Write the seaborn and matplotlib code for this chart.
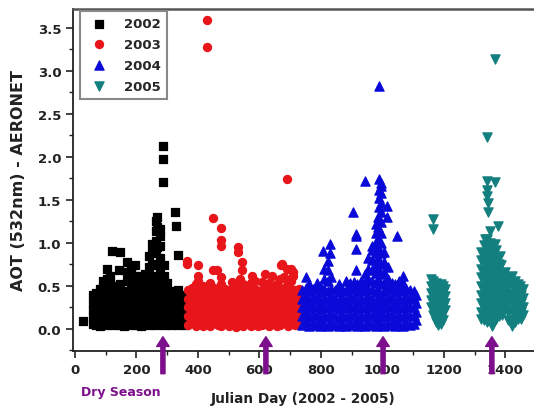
import pandas as pd
import matplotlib
matplotlib.use('Agg')
import matplotlib.pyplot as plt
import seaborn as sns
from matplotlib.ticker import MultipleLocator, FormatStrFormatter

sns.set_style('ticks')
plt.rcParams['font.family'] = ['DejaVu Sans']
plt.rcParams['font.weight'] = 'bold'

# (julian day, AOT), one column of points per line
pts_2002 = [
    (25, 0.09),
    (58, 0.06), (58, 0.14), (58, 0.22), (58, 0.30), (58, 0.40),
    (68, 0.05), (68, 0.10), (68, 0.18), (68, 0.26), (68, 0.34), (68, 0.42),
    (80, 0.04), (80, 0.12), (80, 0.20), (80, 0.28), (80, 0.36), (80, 0.46),
    (92, 0.06), (92, 0.14), (92, 0.22), (92, 0.30), (92, 0.38), (92, 0.48), (92, 0.56),
    (103, 0.05), (103, 0.12), (103, 0.20), (103, 0.32), (103, 0.44), (103, 0.58), (103, 0.70),
    (114, 0.07), (114, 0.16), (114, 0.25), (114, 0.35), (114, 0.45), (114, 0.55), (114, 0.62),
    (119, 0.91),
    (126, 0.05), (126, 0.13), (126, 0.22), (126, 0.30), (126, 0.40), (126, 0.50),
    (137, 0.06), (137, 0.15), (137, 0.25), (137, 0.35), (137, 0.44),
    (144, 0.68), (146, 0.90),
    (148, 0.05), (148, 0.14), (148, 0.22), (148, 0.32), (148, 0.42), (148, 0.52),
    (160, 0.04), (160, 0.10), (160, 0.18), (160, 0.28), (160, 0.38),
    (170, 0.06), (170, 0.14), (170, 0.24), (170, 0.34), (170, 0.44), (170, 0.56), (170, 0.66), (170, 0.78),
    (182, 0.05), (182, 0.12), (182, 0.22), (182, 0.32), (182, 0.42), (182, 0.54), (182, 0.64), (182, 0.72),
    (194, 0.06), (194, 0.15), (194, 0.25), (194, 0.36), (194, 0.48), (194, 0.62), (194, 0.74),
    (205, 0.05), (205, 0.12), (205, 0.22), (205, 0.30), (205, 0.38), (205, 0.46), (205, 0.58),
    (216, 0.04), (216, 0.14), (216, 0.24), (216, 0.34), (216, 0.44), (216, 0.54), (216, 0.62),
    (228, 0.06), (228, 0.16), (228, 0.26), (228, 0.38), (228, 0.50), (228, 0.64),
    (240, 0.05), (240, 0.13), (240, 0.23), (240, 0.33), (240, 0.45), (240, 0.58), (240, 0.72), (240, 0.85),
    (252, 0.06), (252, 0.15), (252, 0.26), (252, 0.38), (252, 0.50), (252, 0.62), (252, 0.76), (252, 0.90), (252, 0.99),
    (262, 0.05), (262, 0.14), (262, 0.24), (262, 0.36), (262, 0.48), (262, 0.60), (262, 0.74), (262, 0.88),
    (262, 1.02), (262, 1.14), (262, 1.25),
    (268, 1.30), (268, 1.18), (268, 0.95),
    (276, 0.06), (276, 0.16), (276, 0.28), (276, 0.40), (276, 0.54), (276, 0.68), (276, 0.82), (276, 0.96),
    (276, 1.08), (276, 1.16),
    (285, 1.71), (285, 1.98), (285, 2.13),
    (288, 0.05), (288, 0.14), (288, 0.26), (288, 0.38), (288, 0.50), (288, 0.62), (288, 0.74),
    (300, 0.06), (300, 0.15), (300, 0.24), (300, 0.34), (300, 0.44), (300, 0.54),
    (312, 0.05), (312, 0.12), (312, 0.22), (312, 0.32), (312, 0.42),
    (324, 0.06), (324, 0.14), (324, 0.24), (324, 0.34), (324, 0.44),
    (325, 1.36), (328, 1.20),
    (336, 0.86), (336, 0.05), (336, 0.15), (336, 0.25), (336, 0.35), (336, 0.45),
    (348, 0.06), (348, 0.14), (348, 0.22), (348, 0.32), (348, 0.40),
    (358, 0.05), (358, 0.12), (358, 0.20), (358, 0.30), (358, 0.38),
]

pts_2003 = [
    (428, 3.59), (428, 3.28), (688, 1.74), (448, 1.29), (475, 1.17), (475, 1.03), (475, 0.97),
    (531, 0.95), (531, 0.89), (365, 0.79), (365, 0.76), (401, 0.74), (401, 0.62), (401, 0.56),
    (450, 0.68), (461, 0.68), (542, 0.78), (542, 0.68), (575, 0.62), (618, 0.64), (640, 0.62),
    (669, 0.74), (672, 0.76), (688, 0.70), (701, 0.70), (710, 0.66), (710, 0.62),
    (368, 0.05), (368, 0.15), (368, 0.25), (368, 0.35), (368, 0.45),
    (380, 0.08), (380, 0.18), (380, 0.28), (380, 0.38), (380, 0.48),
    (392, 0.04), (392, 0.14), (392, 0.24), (392, 0.34), (392, 0.44), (392, 0.52),
    (404, 0.07), (404, 0.17), (404, 0.27), (404, 0.37), (404, 0.47),
    (416, 0.03), (416, 0.13), (416, 0.23), (416, 0.33), (416, 0.43), (416, 0.50),
    (428, 0.06), (428, 0.16), (428, 0.26), (428, 0.36), (428, 0.46),
    (440, 0.04), (440, 0.14), (440, 0.24), (440, 0.34), (440, 0.44), (440, 0.54),
    (452, 0.08), (452, 0.18), (452, 0.28), (452, 0.38), (452, 0.48),
    (464, 0.05), (464, 0.15), (464, 0.25), (464, 0.35), (464, 0.45),
    (476, 0.03), (476, 0.12), (476, 0.22), (476, 0.32), (476, 0.42), (476, 0.52), (476, 0.60),
    (488, 0.07), (488, 0.17), (488, 0.27), (488, 0.37), (488, 0.47),
    (500, 0.04), (500, 0.14), (500, 0.24), (500, 0.34), (500, 0.44),
    (512, 0.06), (512, 0.16), (512, 0.26), (512, 0.36), (512, 0.46), (512, 0.55),
    (524, 0.02), (524, 0.12), (524, 0.22), (524, 0.32), (524, 0.42), (524, 0.50),
    (536, 0.05), (536, 0.15), (536, 0.25), (536, 0.35), (536, 0.45), (536, 0.58),
    (548, 0.03), (548, 0.13), (548, 0.23), (548, 0.33), (548, 0.43), (548, 0.52),
    (560, 0.07), (560, 0.17), (560, 0.27), (560, 0.37), (560, 0.47),
    (572, 0.04), (572, 0.14), (572, 0.24), (572, 0.34), (572, 0.44), (572, 0.54),
    (584, 0.06), (584, 0.16), (584, 0.26), (584, 0.36), (584, 0.46), (584, 0.56),
    (596, 0.03), (596, 0.13), (596, 0.23), (596, 0.33), (596, 0.43),
    (608, 0.05), (608, 0.15), (608, 0.25), (608, 0.35), (608, 0.45), (608, 0.55),
    (620, 0.07), (620, 0.17), (620, 0.27), (620, 0.37), (620, 0.47),
    (632, 0.04), (632, 0.14), (632, 0.24), (632, 0.34), (632, 0.44), (632, 0.54),
    (644, 0.06), (644, 0.16), (644, 0.26), (644, 0.36), (644, 0.46),
    (656, 0.03), (656, 0.13), (656, 0.23), (656, 0.33), (656, 0.43), (656, 0.52),
    (668, 0.05), (668, 0.15), (668, 0.25), (668, 0.35), (668, 0.45), (668, 0.58),
    (680, 0.08), (680, 0.18), (680, 0.28), (680, 0.38), (680, 0.48), (680, 0.60),
    (692, 0.04), (692, 0.14), (692, 0.24), (692, 0.34), (692, 0.44), (692, 0.54),
    (704, 0.06), (704, 0.16), (704, 0.26), (704, 0.36), (704, 0.46), (704, 0.56),
    (716, 0.05), (716, 0.15), (716, 0.25), (716, 0.35), (716, 0.45),
    (728, 0.08), (728, 0.18), (728, 0.28), (728, 0.38), (728, 0.46),
]

pts_2004 = [
    (990, 2.82), (943, 1.72), (990, 1.74), (994, 1.66), (990, 1.62), (905, 1.36),
    (1016, 1.43), (1016, 1.30), (1048, 1.08), (914, 1.10), (914, 1.08), (914, 0.93), (914, 0.68),
    (829, 0.99), (829, 0.88), (808, 0.91),
    (738, 0.05), (738, 0.15), (738, 0.25), (738, 0.35), (738, 0.45),
    (750, 0.08), (750, 0.18), (750, 0.28), (750, 0.38), (750, 0.48), (750, 0.60),
    (762, 0.04), (762, 0.14), (762, 0.24), (762, 0.34), (762, 0.44), (762, 0.52),
    (774, 0.07), (774, 0.17), (774, 0.27), (774, 0.37), (774, 0.47),
    (786, 0.05), (786, 0.15), (786, 0.25), (786, 0.35), (786, 0.45), (786, 0.54),
    (798, 0.03), (798, 0.13), (798, 0.23), (798, 0.33), (798, 0.43), (798, 0.50),
    (810, 0.06), (810, 0.16), (810, 0.26), (810, 0.36), (810, 0.46), (810, 0.58), (810, 0.70),
    (822, 0.04), (822, 0.14), (822, 0.24), (822, 0.34), (822, 0.44), (822, 0.56), (822, 0.68), (822, 0.79),
    (834, 0.07), (834, 0.17), (834, 0.27), (834, 0.37), (834, 0.47), (834, 0.60),
    (846, 0.05), (846, 0.15), (846, 0.25), (846, 0.35), (846, 0.45),
    (858, 0.03), (858, 0.13), (858, 0.23), (858, 0.33), (858, 0.43), (858, 0.52),
    (870, 0.06), (870, 0.16), (870, 0.26), (870, 0.36), (870, 0.46),
    (882, 0.04), (882, 0.14), (882, 0.24), (882, 0.34), (882, 0.44), (882, 0.56),
    (894, 0.07), (894, 0.17), (894, 0.27), (894, 0.37), (894, 0.47), (894, 0.54),
    (906, 0.05), (906, 0.15), (906, 0.25), (906, 0.35), (906, 0.45), (906, 0.55),
    (918, 0.03), (918, 0.13), (918, 0.23), (918, 0.33), (918, 0.43), (918, 0.52),
    (930, 0.06), (930, 0.16), (930, 0.26), (930, 0.36), (930, 0.46), (930, 0.56),
    (942, 0.04), (942, 0.14), (942, 0.24), (942, 0.34), (942, 0.44), (942, 0.54), (942, 0.64),
    (954, 0.07), (954, 0.17), (954, 0.27), (954, 0.37), (954, 0.47), (954, 0.58), (954, 0.70), (954, 0.82),
    (966, 0.05), (966, 0.15), (966, 0.25), (966, 0.35), (966, 0.45), (966, 0.56), (966, 0.68), (966, 0.80),
    (966, 0.92), (966, 0.97),
    (978, 0.03), (978, 0.13), (978, 0.23), (978, 0.33), (978, 0.43), (978, 0.54), (978, 0.65), (978, 0.76),
    (978, 0.88), (978, 1.00), (978, 1.12), (978, 1.22),
    (986, 0.08), (986, 0.20), (986, 0.32), (986, 0.45), (986, 0.58), (986, 0.70), (986, 0.82), (986, 0.94),
    (986, 1.06), (986, 1.18), (986, 1.30),
    (990, 1.42), (990, 1.52),
    (996, 0.05), (996, 0.16), (996, 0.28), (996, 0.40), (996, 0.52), (996, 0.64), (996, 0.76), (996, 0.88),
    (996, 1.00), (996, 1.12), (996, 1.24), (996, 1.36), (996, 1.46), (996, 1.58), (996, 1.70),
    (1006, 0.04), (1006, 0.14), (1006, 0.24), (1006, 0.34), (1006, 0.44), (1006, 0.54), (1006, 0.66),
    (1006, 0.78), (1006, 0.90),
    (1018, 0.07), (1018, 0.17), (1018, 0.27), (1018, 0.37), (1018, 0.47), (1018, 0.58), (1018, 0.72),
    (1030, 0.05), (1030, 0.15), (1030, 0.25), (1030, 0.35), (1030, 0.45), (1030, 0.54),
    (1042, 0.03), (1042, 0.13), (1042, 0.23), (1042, 0.33), (1042, 0.43), (1042, 0.52),
    (1054, 0.06), (1054, 0.16), (1054, 0.26), (1054, 0.36), (1054, 0.46), (1054, 0.56),
    (1066, 0.04), (1066, 0.14), (1066, 0.24), (1066, 0.34), (1066, 0.44), (1066, 0.54), (1066, 0.62),
    (1078, 0.07), (1078, 0.17), (1078, 0.27), (1078, 0.37), (1078, 0.47),
    (1090, 0.05), (1090, 0.15), (1090, 0.25), (1090, 0.35), (1090, 0.45),
    (1102, 0.06), (1102, 0.16), (1102, 0.26), (1102, 0.36), (1102, 0.44),
    (1108, 0.10), (1108, 0.20), (1108, 0.30), (1108, 0.40),
]

pts_2005 = [
    (1165, 1.28), (1165, 1.16),
    (1157, 0.58), (1157, 0.50), (1157, 0.42), (1157, 0.34), (1157, 0.26),
    (1165, 0.56), (1165, 0.48), (1165, 0.40), (1165, 0.32), (1165, 0.24), (1165, 0.16),
    (1173, 0.54), (1173, 0.46), (1173, 0.38), (1173, 0.30), (1173, 0.22), (1173, 0.14), (1173, 0.08),
    (1181, 0.50), (1181, 0.42), (1181, 0.34), (1181, 0.26), (1181, 0.18), (1181, 0.10), (1181, 0.05),
    (1189, 0.52), (1189, 0.44), (1189, 0.36), (1189, 0.28), (1189, 0.20), (1189, 0.12), (1189, 0.06),
    (1197, 0.50), (1197, 0.42), (1197, 0.34), (1197, 0.26), (1197, 0.18), (1197, 0.11),
    (1205, 0.46), (1205, 0.38), (1205, 0.30), (1205, 0.22),
    (1366, 3.14), (1339, 2.23), (1339, 1.72), (1366, 1.71), (1339, 1.62), (1339, 1.55), (1342, 1.47),
    (1345, 1.36), (1377, 1.20), (1350, 1.14), (1333, 1.05), (1366, 0.99), (1382, 0.85), (1387, 0.74),
    (1420, 0.62), (1447, 0.50),
    (1320, 0.90), (1320, 0.80), (1320, 0.70), (1320, 0.60), (1320, 0.50), (1320, 0.40), (1320, 0.30),
    (1320, 0.20), (1320, 0.12),
    (1330, 0.98), (1330, 0.88), (1330, 0.78), (1330, 0.68), (1330, 0.58), (1330, 0.48), (1330, 0.38),
    (1330, 0.28), (1330, 0.18), (1330, 0.10),
    (1340, 1.05), (1340, 0.95), (1340, 0.85), (1340, 0.75), (1340, 0.65), (1340, 0.55), (1340, 0.45),
    (1340, 0.35), (1340, 0.25), (1340, 0.15), (1340, 0.08),
    (1350, 1.00), (1350, 0.90), (1350, 0.80), (1350, 0.70), (1350, 0.60), (1350, 0.50), (1350, 0.40),
    (1350, 0.30), (1350, 0.20), (1350, 0.10), (1355, 0.04),
    (1360, 0.97), (1360, 0.86), (1360, 0.76), (1360, 0.66), (1360, 0.56), (1360, 0.46), (1360, 0.36),
    (1360, 0.26), (1360, 0.16), (1360, 0.06),
    (1370, 0.92), (1370, 0.82), (1370, 0.72), (1370, 0.62), (1370, 0.52), (1370, 0.42), (1370, 0.32),
    (1370, 0.22), (1370, 0.12),
    (1380, 0.75), (1380, 0.65), (1380, 0.55), (1380, 0.45), (1380, 0.35), (1380, 0.25), (1380, 0.15),
    (1390, 0.64), (1390, 0.54), (1390, 0.44), (1390, 0.34), (1390, 0.24), (1390, 0.16),
    (1400, 0.66), (1400, 0.56), (1400, 0.46), (1400, 0.36), (1400, 0.26),
    (1410, 0.60), (1410, 0.50), (1410, 0.40), (1410, 0.30), (1410, 0.20), (1410, 0.10),
    (1420, 0.52), (1420, 0.42), (1420, 0.32), (1420, 0.22), (1420, 0.12), (1420, 0.04),
    (1430, 0.56), (1430, 0.46), (1430, 0.36), (1430, 0.26), (1430, 0.16), (1430, 0.08),
    (1440, 0.52), (1440, 0.42), (1440, 0.32), (1440, 0.22), (1440, 0.12),
    (1450, 0.40), (1450, 0.30), (1450, 0.20), (1450, 0.12),
    (1458, 0.46), (1458, 0.36), (1458, 0.26), (1458, 0.16),
]

years = ['2002', '2003', '2004', '2005']
year_pts = [pts_2002, pts_2003, pts_2004, pts_2005]
year_colors = ['#000000', '#e8161a', '#0a0ad8', '#13807f']
year_markers = ['s', 'o', '^', 'v']
year_sizes = [26, 34, 44, 44]

dry_season_days = [286, 621, 1002, 1356]
purple = '#7d0f8c'

fig = plt.figure(figsize=(5.34, 4.10), dpi=100)
ax = fig.add_axes([0.1367, 0.1415, 0.8633, 0.8341])

for yr, pts, c, m, s in zip(years, year_pts, year_colors, year_markers, year_sizes):
    df = pd.DataFrame(pts, columns=['day', 'aot'])
    sns.scatterplot(x='day', y='aot', data=df, color=c, marker=m, s=s,
                    edgecolor=c, linewidth=0.9, label=yr, ax=ax, zorder=3)

ax.set_xlim(-6.5, 1493)
ax.set_ylim(-0.256, 3.72)
ax.xaxis.set_major_locator(MultipleLocator(200))
ax.xaxis.set_minor_locator(MultipleLocator(100))
ax.yaxis.set_major_locator(MultipleLocator(0.5))
ax.yaxis.set_minor_locator(MultipleLocator(0.25))
ax.yaxis.set_major_formatter(FormatStrFormatter('%.1f'))
ax.tick_params(which='major', direction='out', length=5, width=1.2, labelsize=9.5,
               colors='#222222')
ax.tick_params(which='minor', direction='out', length=3, width=1.0, colors='#222222')
ax.spines['right'].set_visible(False)
ax.spines['top'].set_color('#555555')
ax.spines['top'].set_linewidth(1.8)
for side in ['left', 'bottom']:
    ax.spines[side].set_linewidth(1.3)
    ax.spines[side].set_color('#222222')

ax.set_xlabel('Julian Day (2002 - 2005)', fontsize=9.8, fontweight='bold',
              color='#222222', labelpad=11)
ax.set_ylabel('AOT (532nm) - AERONET', fontsize=11.5, fontweight='bold',
              color='#222222', labelpad=8)

leg = ax.legend(loc='upper left', bbox_to_anchor=(0.015, 0.994), frameon=True,
                fancybox=False, edgecolor='#888888', framealpha=1,
                prop=dict(weight='bold', size=9.5), handletextpad=0.9,
                labelspacing=0.6, borderpad=0.45, borderaxespad=0)
leg.get_frame().set_linewidth(1.5)

for d in dry_season_days:
    ax.annotate('', xy=(d, -0.09), xytext=(d, -0.52),
                arrowprops=dict(width=3, headwidth=9, headlength=7, color=purple),
                annotation_clip=False)

fig.text(121 / 534, 1 - 393 / 410, 'Dry Season', color=purple, fontsize=9,
         fontweight='bold', ha='center', va='center')

fig.savefig('out.png', dpi=100)
